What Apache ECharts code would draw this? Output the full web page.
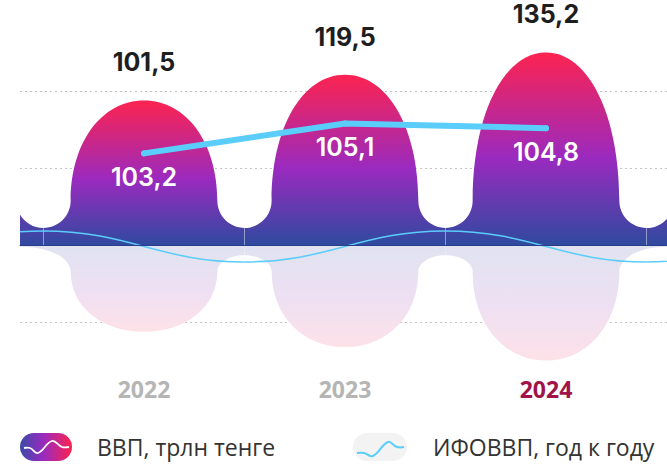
<!DOCTYPE html>
<html>
<head>
<meta charset="utf-8">
<script src="https://cdn.jsdelivr.net/npm/echarts@6/dist/echarts.min.js"></script>
<style>
html,body{margin:0;padding:0;background:#fff;}
#chart{width:667px;height:466px;}
</style>
</head>
<body>
<div id="chart"></div>
<script>
// ---- data ----
const years = ['2022', '2023', '2024'];
const gdp = [101.5, 119.5, 135.2];          // ВВП, трлн тенге
const ifo = [103.2, 105.1, 104.8];          // ИФОВВП, год к году
const seriesNames = ['ВВП, трлн тенге', 'ИФОВВП, год к году'];

// ---- layout / style ----
const xMin = -0.617, xMax = 2.602;
const K = 0.5523, KD = 0.58;
const fmt = v => String(v).replace('.', ',');

const mainStops = [
  {offset: 0, color: '#fc2350'},
  {offset: 0.55, color: '#9a2abf'},
  {offset: 1, color: '#2f4a9f'}
];
const reflStops = [
  {offset: 0, color: '#e0e3f1'},
  {offset: 0.5, color: '#ede0f3'},
  {offset: 1, color: '#fde1e8'}
];

function bumpD(c, w, hT, fy, outerL, outerR) {
  const r = 0.27 * w, s = w - r, hV = 17, hS = hV + r, D = hT - hS;
  const P = (x, h) => x.toFixed(2) + ' ' + fy(h).toFixed(2);
  let d;
  if (outerL !== undefined) {
    d = 'M' + P(outerL, 0) + ' L' + P(outerL, 3) + ' C' + P(c - s - 18, 3) + ' ' + P(c - s, hS - 20) + ' ' + P(c - s, hS);
  } else {
    d = 'M' + P(c - w, 0) + ' L' + P(c - w, hV) + ' C' + P(c - w + K * r, hV) + ' ' + P(c - s, hS - K * r) + ' ' + P(c - s, hS);
  }
  d += ' C' + P(c - s, hS + KD * D) + ' ' + P(c - KD * s, hT) + ' ' + P(c, hT);
  d += ' C' + P(c + KD * s, hT) + ' ' + P(c + s, hS + KD * D) + ' ' + P(c + s, hS);
  if (outerR !== undefined) {
    d += ' C' + P(c + s, hS - 20) + ' ' + P(c + s + 18, 3) + ' ' + P(outerR, 3) + ' L' + P(outerR, 0);
  } else {
    d += ' C' + P(c + s, hS - K * r) + ' ' + P(c + w - K * r, hV) + ' ' + P(c + w, hV) + ' L' + P(c + w, 0);
  }
  return d + ' Z';
}

function waveD(cc, w, yB, j) {
  const hi = yB - 14, lo = yB + 17;
  const y1 = (j % 2 === 0) ? hi : lo;
  const y2 = (j % 2 === 0) ? lo : hi;
  const xl = cc - w, xr = cc + w, k = 0.42 * 2 * w;
  return 'M' + xl + ' ' + y1 + ' C' + (xl + k) + ' ' + y1 + ' ' + (xr - k) + ' ' + y2 + ' ' + xr + ' ' + y2;
}

function renderGdp(params, api) {
  const i = api.value(0), v = api.value(1);
  const base = api.coord([i, 0]);
  const top = api.coord([i, v]);
  const w = api.size([1, 0])[0] / 2;
  const c = base[0], yB = base[1];
  const hT = yB - top[1];
  const cs = params.coordSys;
  const first = params.dataIndex === 0;
  const last = params.dataIndex === gdp.length - 1;
  const fyMain = h => yB - h;
  const fyRefl = h => yB + 0.6 * h;
  const mainFill = () => new echarts.graphic.LinearGradient(0, 0, 0, 1, mainStops);
  const children = [];
  children.push({
    type: 'path',
    shape: {pathData: bumpD(c, w, hT, fyRefl, first ? cs.x : undefined, last ? cs.x + cs.width : undefined)},
    style: {fill: new echarts.graphic.LinearGradient(0, 0, 0, 1, reflStops)}
  });
  children.push({type: 'path', shape: {pathData: bumpD(c, w, hT, fyMain)}, style: {fill: mainFill()}});
  if (first) children.push({type: 'path', shape: {pathData: bumpD(c - 2 * w, w, hT, fyMain)}, style: {fill: mainFill()}});
  if (last) children.push({type: 'path', shape: {pathData: bumpD(c + 2 * w, w, hT, fyMain)}, style: {fill: mainFill()}});
  const bands = [i];
  if (first) bands.push(i - 1);
  if (last) bands.push(i + 1);
  bands.forEach(j => {
    children.push({
      type: 'path',
      shape: {pathData: waveD(c + (j - i) * 2 * w, w, yB, ((j % 2) + 2) % 2)},
      style: {fill: 'none', stroke: '#5bcdfb', lineWidth: 1.5}
    });
  });
  return {type: 'group', children: children};
}

const chart = echarts.init(document.getElementById('chart'), null, {renderer: 'svg'});
const lineColor = '#5bcdfb';

chart.setOption({
  animation: false,
  backgroundColor: '#ffffff',
  grid: {left: 20, right: 0, top: 14.3, bottom: 67.2, outerBoundsMode: 'none', containLabel: false},
  xAxis: [
    {
      type: 'value', min: xMin, max: xMax, z: 3,
      axisLine: {show: true, onZero: true, lineStyle: {color: '#2b3d8a', width: 1}},
      axisTick: {
        show: true, inside: true, length: 17,
        customValues: years.map((_, i) => i - 0.5).concat([years.length - 0.5]),
        lineStyle: {color: 'rgba(255,255,255,0.28)', width: 1}
      },
      axisLabel: {show: false},
      splitLine: {show: false}
    },
    {
      type: 'value', min: xMin, max: xMax, position: 'bottom',
      axisLine: {show: false, onZero: false},
      axisTick: {show: false},
      axisLabel: {
        show: true, margin: -21,
        customValues: years.map((_, i) => i),
        formatter: v => {
          const idx = Math.round(v);
          return (idx === years.length - 1 ? '{h|' : '{n|') + years[idx] + '}';
        },
        rich: {
          n: {fontFamily: 'Open Sans', fontWeight: 700, fontSize: 23, color: '#b5b5b5'},
          h: {fontFamily: 'Open Sans', fontWeight: 700, fontSize: 23, color: '#a01449'}
        }
      },
      splitLine: {show: false}
    }
  ],
  yAxis: [
    {
      type: 'value', min: -108, max: 162, interval: 54,
      axisLine: {show: false}, axisTick: {show: false}, axisLabel: {show: false},
      splitLine: {show: true, showMinLine: false, showMaxLine: false,
        lineStyle: {color: '#c4c4c4', width: 1, type: [2, 3]}}
    },
    {
      type: 'value', min: 87.64, max: 112.02, show: false,
      splitLine: {show: false}
    }
  ],
  series: [
    {
      name: seriesNames[0],
      type: 'custom',
      clip: true,
      z: 2,
      data: gdp.map((v, i) => [i, v]),
      renderItem: renderGdp,
      silent: true
    },
    {
      name: seriesNames[0] + ' labels',
      type: 'scatter',
      clip: false,
      z: 6,
      symbolSize: 1,
      itemStyle: {color: 'rgba(0,0,0,0)', opacity: 1},
      data: gdp.map((v, i) => [i, v]),
      label: {
        show: true, position: 'top', distance: 25,
        formatter: p => fmt(p.value[1]),
        fontFamily: 'Inter', fontWeight: 700, fontSize: 25, color: '#1e1e1e'
      },
      silent: true
    },
    {
      name: seriesNames[1],
      type: 'line',
      yAxisIndex: 1,
      z: 5,
      data: ifo.map((v, i) => [i, v]),
      symbol: 'circle', symbolSize: 6,
      itemStyle: {color: lineColor},
      lineStyle: {color: lineColor, width: 6, cap: 'round', join: 'round'},
      label: {
        show: true, position: 'bottom', distance: 8,
        formatter: p => fmt(p.value[1]),
        fontFamily: 'Inter', fontWeight: 600, fontSize: 25, color: '#ffffff'
      },
      silent: true
    }
  ],
  graphic: [
    {
      type: 'group', x: 20, y: 433,
      children: [
        {type: 'rect', shape: {x: 0, y: 0, width: 52, height: 28, r: 14},
          style: {fill: new echarts.graphic.LinearGradient(0, 0, 1, 0, [
            {offset: 0, color: '#3a4aa8'}, {offset: 0.45, color: '#9a2abf'}, {offset: 1, color: '#fc2350'}])}},
        {type: 'polyline', shape: {points: [[4, 15], [10, 15], [18, 20], [32, 8], [42, 14], [49, 14]], smooth: 0.4},
          style: {fill: 'none', stroke: '#ffffff', lineWidth: 1.8}}
      ]
    },
    {type: 'text', x: 97, y: 447, style: {text: seriesNames[0], fontFamily: 'Open Sans', fontSize: 23, fill: '#333333', verticalAlign: 'middle'}},
    {
      type: 'group', x: 353, y: 433,
      children: [
        {type: 'rect', shape: {x: 0, y: 0, width: 54, height: 28, r: 14}, style: {fill: '#f3f3f3'}},
        {type: 'polyline', shape: {points: [[4, 20], [11, 20], [20, 23], [35, 9], [44, 14], [51, 14]], smooth: 0.4},
          style: {fill: 'none', stroke: lineColor, lineWidth: 2}}
      ]
    },
    {type: 'text', x: 433, y: 447, style: {text: seriesNames[1], fontFamily: 'Open Sans', fontSize: 23, fill: '#333333', verticalAlign: 'middle'}}
  ]
});
</script>
</body>
</html>
